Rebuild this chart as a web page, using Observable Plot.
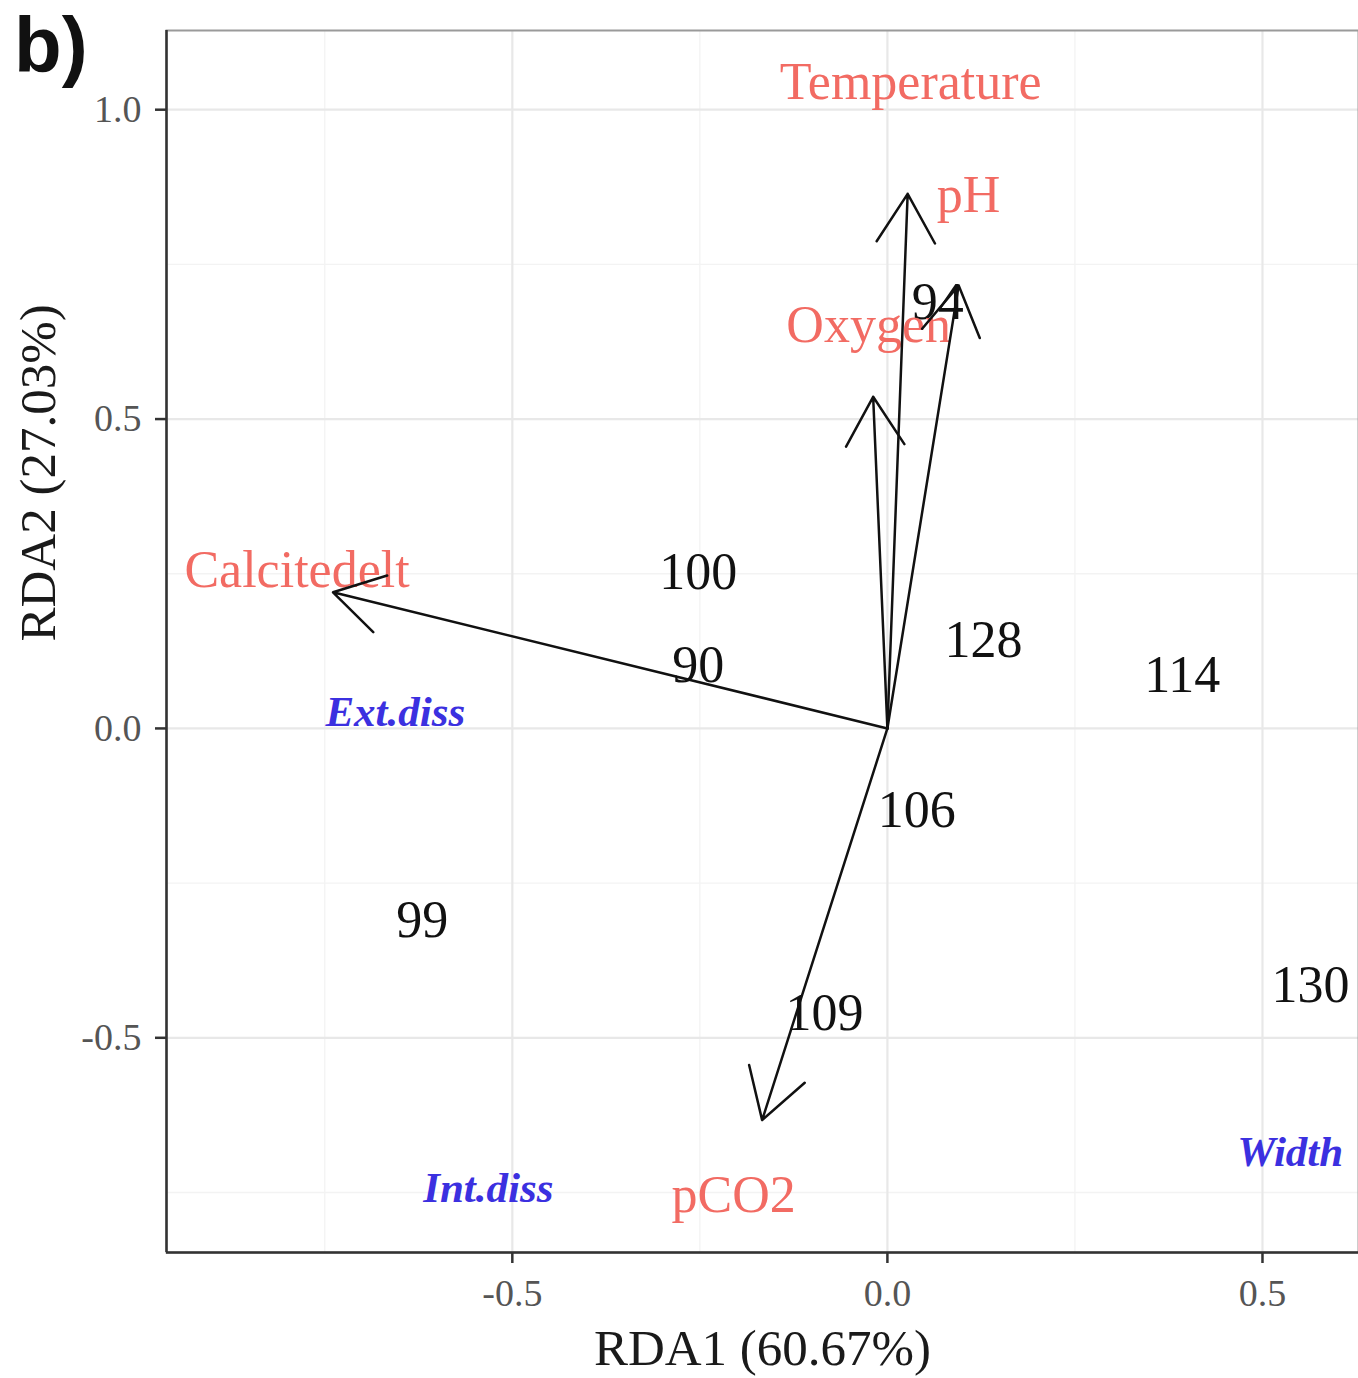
<!DOCTYPE html>
<html>
<head>
<meta charset="utf-8">
<script src="https://cdn.jsdelivr.net/npm/d3@7"></script>
<script src="https://cdn.jsdelivr.net/npm/@observablehq/plot@0.6"></script>
<style>
  html, body { margin: 0; padding: 0; background: #fff; overflow: hidden; }
  #wrap { position: relative; width: 1358px; height: 1378px; }
  #tag { position: absolute; left: 14px; top: 6px; line-height: 1; font-family: "Liberation Sans", Arial, sans-serif; font-weight: bold; font-size: 78px; color: #111; }
</style>
</head>
<body>
<div id="wrap"><div id="tag">b)</div></div>
<script>
// Environmental vectors (biplot arrows)
const envNames = ["Temperature", "pH", "Oxygen", "Calcitedelt", "pCO2"];
const envX = [0.027, 0.095, -0.019, -0.739, -0.167];
const envY = [0.864, 0.716, 0.536, 0.220, -0.633];
const envLabelX = [0.031, 0.108, -0.025, -0.787, -0.205];
const envLabelY = [1.044, 0.861, 0.651, 0.255, -0.754];

// Site scores
const siteNames = ["90", "94", "99", "100", "106", "109", "114", "128", "130"];
const siteX = [-0.252, 0.067, -0.620, -0.252, 0.039, -0.084, 0.393, 0.128, 0.564];
const siteY = [0.102, 0.688, -0.310, 0.252, -0.132, -0.460, 0.086, 0.142, -0.415];

// Species scores
const speciesNames = ["Ext.diss", "Int.diss", "Width"];
const speciesX = [-0.656, -0.532, 0.537];
const speciesY = [0.026, -0.743, -0.685];

// Axis ticks
const xMajor = [-0.5, 0, 0.5];
const xMinor = [-0.75, -0.25, 0.25];
const yMajor = [-0.5, 0, 0.5, 1.0];
const yMinor = [-0.75, -0.25, 0.25, 0.75];
const xDomain = [-0.961, 0.628];
const yDomain = [-0.847, 1.128];

const env = envNames.map((n, i) => ({name: n, x: envX[i], y: envY[i], lx: envLabelX[i], ly: envLabelY[i]}));
const sites = siteNames.map((n, i) => ({name: n, x: siteX[i], y: siteY[i]}));
const species = speciesNames.map((n, i) => ({name: n, x: speciesX[i], y: speciesY[i]}));

const serif = "Liberation Serif, Times New Roman, serif";

const chart = Plot.plot({
  width: 1358,
  height: 1378,
  marginLeft: 166,
  marginTop: 30,
  marginRight: 0,
  marginBottom: 126,
  style: {background: "white", fontFamily: serif},
  x: {domain: xDomain, axis: null},
  y: {domain: yDomain, axis: null},
  marks: [
    Plot.gridX(xMinor, {stroke: "#f3f3f3", strokeOpacity: 1, strokeWidth: 1.3}),
    Plot.gridY(yMinor, {stroke: "#f3f3f3", strokeOpacity: 1, strokeWidth: 1.3}),
    Plot.gridX(xMajor, {stroke: "#e8e8e8", strokeOpacity: 1, strokeWidth: 2.2}),
    Plot.gridY(yMajor, {stroke: "#e8e8e8", strokeOpacity: 1, strokeWidth: 2.2}),
    Plot.frame({stroke: "#9a9a9a", strokeWidth: 2}),
    Plot.ruleX([xDomain[0]], {stroke: "#333", strokeWidth: 2.5}),
    Plot.ruleY([yDomain[0]], {stroke: "#333", strokeWidth: 2.5}),
    Plot.axisX({ticks: xMajor, tickFormat: d => d.toFixed(1), tickSize: 11, tickPadding: 16,
      fontSize: 38, fontFamily: serif, fill: "#555", stroke: "#333", strokeWidth: 2.5, label: null}),
    Plot.axisY({ticks: yMajor, tickFormat: d => d.toFixed(1), tickSize: 11, tickPadding: 14,
      fontSize: 38, fontFamily: serif, fill: "#555", stroke: "#333", strokeWidth: 2.5, label: null}),
    Plot.text(["RDA1 (60.67%)"], {frameAnchor: "bottom", dy: 112, fontSize: 51, fontFamily: serif, fill: "#1a1a1a"}),
    Plot.text(["RDA2 (27.03%)"], {frameAnchor: "left", dx: -128, rotate: -90, fontSize: 51, fontFamily: serif, fill: "#1a1a1a"}),
    Plot.text(sites, {x: "x", y: "y", text: "name", fontSize: 52, fontFamily: serif, fill: "#111"}),
    Plot.text(species, {x: "x", y: "y", text: "name", fontSize: 43, fontFamily: serif, fontStyle: "italic", fontWeight: "bold", fill: "#3b30e0", letterSpacing: "3px"}),
    Plot.text(env, {x: "lx", y: "ly", text: "name", fontSize: 52, fontFamily: serif, fill: "#f26b63"}),
    Plot.arrow(env, {x1: () => 0, y1: () => 0, x2: "x", y2: "y", stroke: "#111", strokeWidth: 2.5, headLength: 34, headAngle: 62})
  ]
});

document.getElementById("wrap").prepend(chart);
</script>
</body>
</html>
